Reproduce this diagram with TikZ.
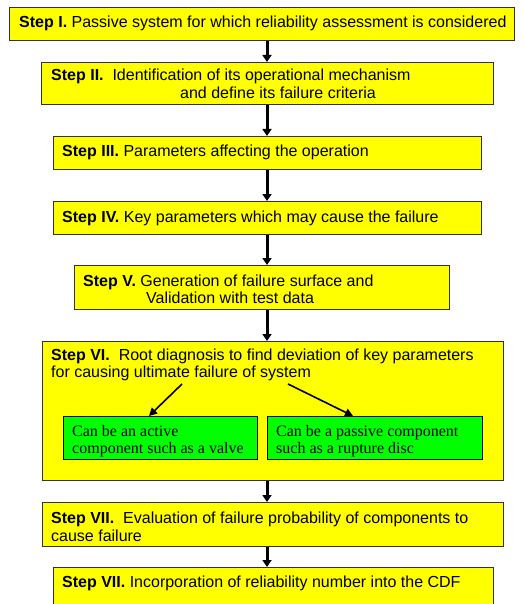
\documentclass[tikz,border=0pt]{standalone}
\usepackage{fontspec}
\setmainfont{Liberation Sans}
\newfontfamily\tmsfont{Liberation Serif}
\usetikzlibrary{arrows.meta,calc}
\definecolor{boxyellow}{RGB}{255,255,0}
\definecolor{boxgreen}{RGB}{0,255,0}
\tikzset{
  box/.style={draw=black!80, line width=1.1pt, fill=boxyellow, inner sep=0pt, anchor=north west},
  gbox/.style={draw=black, line width=1.1pt, fill=boxgreen, inner sep=0pt, anchor=north west},
  txt/.style={anchor=base west, inner sep=0pt, font=\fontsize{16}{18}\selectfont},
  gtxt/.style={anchor=base west, inner sep=0pt, font=\tmsfont\fontsize{16}{18}\selectfont},
  arr/.style={line width=3pt, -{Triangle[width=9pt,length=7pt]}},
  darr/.style={line width=1.6pt, -{Triangle[width=8pt,length=8pt]}}
}
\begin{document}
\begin{tikzpicture}[x=1pt,y=-1pt]
\useasboundingbox (0,0) rectangle (522,604);
\clip (0,0) rectangle (522,604);
\coordinate (ax) at (267,0);
% boxes
\node[box, minimum width=505pt, minimum height=33pt] (s1) at (9,7) {};
\node[box, minimum width=452pt, minimum height=42pt] (s2) at (41,62) {};
\node[box, minimum width=428pt, minimum height=33pt] (s3) at (53,136) {};
\node[box, minimum width=428pt, minimum height=33pt] (s4) at (53,201) {};
\node[box, minimum width=375pt, minimum height=44pt] (s5) at (74,265) {};
\node[box, minimum width=461pt, minimum height=139pt] (s6) at (42,341) {};
\node[gbox, minimum width=194pt, minimum height=43pt] (g1) at (63,416) {};
\node[gbox, minimum width=215pt, minimum height=43pt] (g2) at (267,416) {};
\node[box, minimum width=461pt, minimum height=44pt] (s7) at (42,502) {};
\node[box, minimum width=440pt, minimum height=60pt] (s8) at (53,567) {};
% texts
\node[txt] (t1) at (19,28) {\textbf{Step I.} Passive system for which reliability assessment is considered};
\node[txt] (t2a) at (51,81) {\textbf{Step II.}\ \ Identification of its operational mechanism};
\node[txt] (t2b) at (180,99) {and define its failure criteria};
\node[txt] (t3) at (62,157) {\textbf{Step III.} Parameters affecting the operation};
\node[txt] (t4) at (62,222) {\textbf{Step IV.} Key parameters which may cause the failure};
\node[txt] (t5a) at (83,286) {\textbf{Step V.} Generation of failure surface and};
\node[txt] (t5b) at (146,303) {Validation with test data};
\node[txt] (t6a) at (51,360) {\textbf{Step VI.}\ \ Root diagnosis to find deviation of key parameters};
\node[txt] (t6b) at (51,377) {for causing ultimate failure of system};
\begin{scope}
\clip (g1.north west) rectangle (g1.south east);
\node[gtxt] (g1a) at (72,436) {Can be an active};
\node[gtxt] (g1b) at (72,453) {component such as a valve};
\end{scope}
\begin{scope}
\clip (g2.north west) rectangle (g2.south east);
\node[gtxt] (g2a) at (276,436) {Can be a passive component};
\node[gtxt] (g2b) at (276,453) {such as a rupture disc};
\end{scope}
\node[txt] (t7a) at (51,523) {\textbf{Step VII.}\ \ Evaluation of failure probability of components to};
\node[txt] (t7b) at (51,541) {cause failure};
\node[txt] (t8) at (62,587) {\textbf{Step VII.} Incorporation of reliability number into the CDF};
% main arrows
\draw[arr] (s1.south -| ax) -- (s2.north -| ax);
\draw[arr] (s2.south -| ax) -- (s3.north -| ax);
\draw[arr] (s3.south -| ax) -- (s4.north -| ax);
\draw[arr] (s4.south -| ax) -- (s5.north -| ax);
\draw[arr] (s5.south -| ax) -- (s6.north -| ax);
\draw[arr] (s6.south -| ax) -- (s7.north -| ax);
\draw[arr] (s7.south -| ax) -- (s8.north -| ax);
% branch arrows
\coordinate (d1) at (182,384);
\coordinate (d2) at (288,384);
\draw[darr] (d1) -- ($(g1.north west)+(86,0)$);
\draw[darr] (d2) -- ($(g2.north west)+(86,0)$);
\end{tikzpicture}
\end{document}
